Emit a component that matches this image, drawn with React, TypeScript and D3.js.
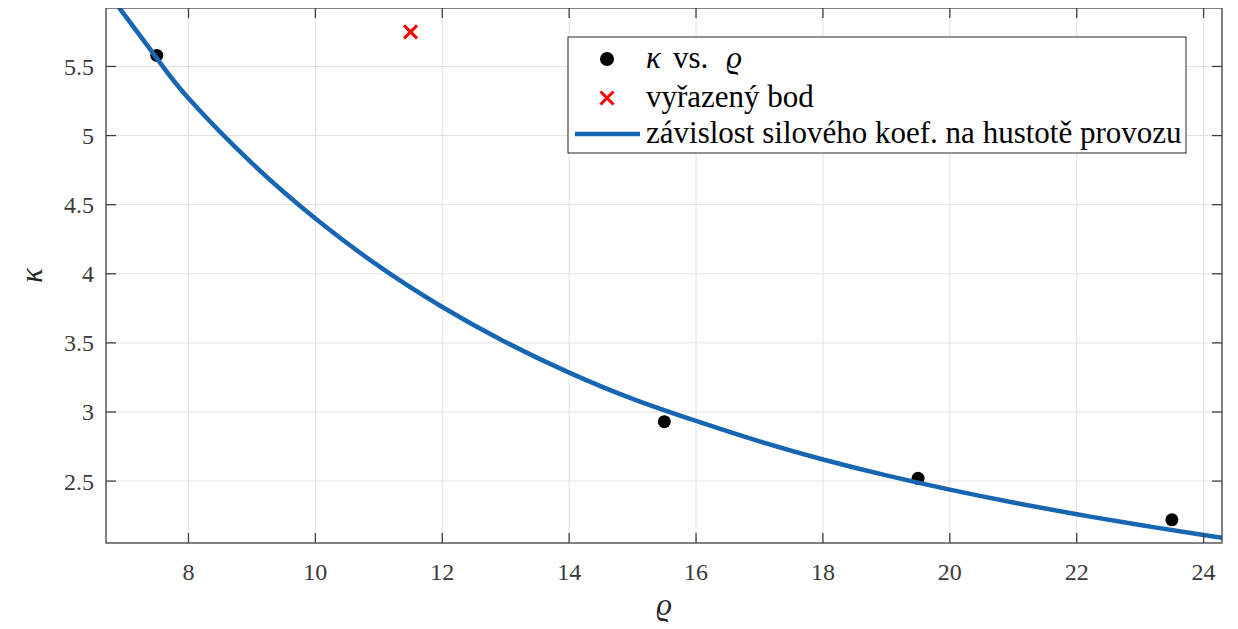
import React from "react";
import * as d3 from "d3";

// measured points (kappa vs. rho)
const measuredRho = [7.5, 15.5, 19.5, 23.5];
const measuredKappa = [5.58, 2.93, 2.52, 2.22];

// excluded point
const excludedRho = [11.5];
const excludedKappa = [5.75];

// fitted dependency
const fitRho = [6.9, 7.5, 8, 9, 10, 11, 12, 13, 14, 15, 16, 17, 18, 19, 20, 21, 22, 23, 24, 24.3];
const fitKappa = [5.93, 5.56, 5.27, 4.8, 4.4, 4.055, 3.76, 3.505, 3.285, 3.095, 2.935, 2.787, 2.656, 2.541, 2.438, 2.345, 2.26, 2.182, 2.11, 2.089];

const xTicks = [8, 10, 12, 14, 16, 18, 20, 22, 24];
const yTicks = [2.5, 3, 3.5, 4, 4.5, 5, 5.5];

const legendLabels = ["vyřazený bod", "závislost silového koef. na hustotě provozu"];

// body has an 8px margin; the svg sits at (8,8) and everything is shifted back
const M = 8;
const W = 1238;
const H = 629;
const left = 106;
const right = 1222;
const top = 8;
const bottom = 543;
const axisColor = "#404040";
const blue = "#1666B3";

const x = d3.scaleLinear().domain([6.7, 24.29]).range([left, right]);
const y = d3.scaleLinear().domain([2.052, 5.923]).range([bottom, top]);

const fitLine = d3
  .line<number>()
  .x((d) => x(d))
  .y((d, i) => y(fitKappa[i]))
  .curve(d3.curveNatural);

const Cross: React.FC<{ cx: number; cy: number }> = ({ cx, cy }) => {
  const s = 6.5;
  return (
    <path
      d={`M${cx - s},${cy - s}L${cx + s},${cy + s}M${cx - s},${cy + s}L${cx + s},${cy - s}`}
      stroke="#ff0000"
      strokeWidth={3}
      fill="none"
    />
  );
};

const T: React.FC<any> = ({ children, ...rest }) => (
  <text fontFamily="Liberation Serif" {...rest}>
    {children}
  </text>
);

const App: React.FC = () => {
  const tl = 10;
  const rowY = [59, 98, 134];
  const textX = 646;
  return (
    <svg width={W - M} height={H - M} overflow="visible">
      <g transform={`translate(${-M},${-M})`}>
        <rect width={W} height={H} fill="#fff" />
        <defs>
          <clipPath id="plotClip">
            <rect x={left} y={top} width={right - left} height={bottom - top} />
          </clipPath>
        </defs>

        {/* grid */}
        <g stroke="#e2e2e2" strokeWidth={1}>
          {xTicks.map((t) => (
            <line key={"gx" + t} x1={x(t)} x2={x(t)} y1={top} y2={bottom} />
          ))}
          {yTicks.map((t) => (
            <line key={"gy" + t} x1={left} x2={right} y1={y(t)} y2={y(t)} />
          ))}
        </g>

        <g clipPath="url(#plotClip)">
          {measuredRho.map((r, i) => (
            <circle key={"m" + i} cx={x(r)} cy={y(measuredKappa[i])} r={6.5} fill="#000" />
          ))}
          <path d={fitLine(fitRho) || ""} fill="none" stroke={blue} strokeWidth={4.5} />
          {excludedRho.map((r, i) => (
            <Cross key={"e" + i} cx={x(r)} cy={y(excludedKappa[i])} />
          ))}
        </g>

        {/* axes box and ticks */}
        <g stroke={axisColor} strokeWidth={1.3}>
          <rect x={left} y={top} width={right - left} height={bottom - top} fill="none" />
          {xTicks.map((t) => (
            <g key={"tx" + t}>
              <line x1={x(t)} x2={x(t)} y1={bottom} y2={bottom - tl} />
              <line x1={x(t)} x2={x(t)} y1={top} y2={top + tl} />
            </g>
          ))}
          {yTicks.map((t) => (
            <g key={"ty" + t}>
              <line x1={left} x2={left + tl} y1={y(t)} y2={y(t)} />
              <line x1={right} x2={right - tl} y1={y(t)} y2={y(t)} />
            </g>
          ))}
        </g>

        {/* tick labels */}
        {xTicks.map((t) => (
          <T key={"lx" + t} x={x(t)} y={580} textAnchor="middle" fontSize={24} fill="#3a3a3a">
            {d3.format("")(t)}
          </T>
        ))}
        {yTicks.map((t) => (
          <T key={"ly" + t} x={left - 12} y={y(t) + 8.5} textAnchor="end" fontSize={24} fill="#3a3a3a">
            {d3.format("")(t)}
          </T>
        ))}

        {/* axis labels */}
        <T x={(left + right) / 2} y={615} textAnchor="middle" fontSize={31} fontStyle="italic" fill="#262626">
          ϱ
        </T>
        <T transform={`translate(42,${(top + bottom) / 2}) rotate(-90)`} textAnchor="middle" fontSize={31} fontStyle="italic" fill="#262626">
          κ
        </T>

        {/* legend */}
        <rect x={568} y={37} width={618} height={116} fill="#fff" stroke="#262626" strokeWidth={1} />
        <circle cx={607} cy={rowY[0]} r={7} fill="#000" />
        <T x={textX} y={rowY[0] + 9} fontSize={31} fill="#000">
          <tspan fontStyle="italic">κ</tspan>
          <tspan dx={12}>vs.</tspan>
          <tspan dx={18} fontStyle="italic">ϱ</tspan>
        </T>
        <Cross cx={607} cy={rowY[1]} />
        <line x1={575} x2={640} y1={rowY[2]} y2={rowY[2]} stroke={blue} strokeWidth={4.5} />
        {legendLabels.map((lab, i) => (
          <T key={lab} x={textX} y={rowY[i + 1] + 9} fontSize={31} fill="#000">
            {lab}
          </T>
        ))}
      </g>
    </svg>
  );
};

export default App;
